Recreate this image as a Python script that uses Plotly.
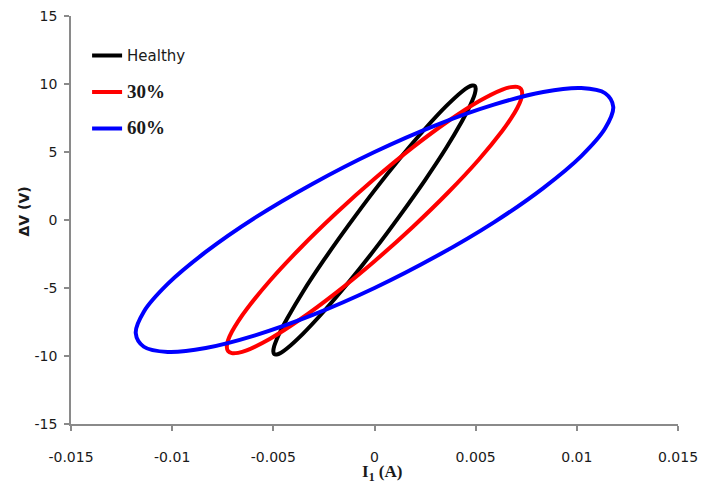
import plotly.graph_objects as go

# ---- data ----
healthy_x = [0, 0.00129, 0.0025, 0.00354, 0.00433, 0.00462, 0.00483, 0.00496, 0.005, 0.00496, 0.00483, 0.00462, 0.00433, 0.00354, 0.0025, 0.00129, 0,
             -0.00129, -0.0025, -0.00354, -0.00433, -0.00462, -0.00483, -0.00496, -0.005, -0.00496, -0.00483, -0.00462, -0.00433, -0.00354, -0.0025, -0.00129, 0]
healthy_y = [2.18, 4.60, 6.71, 8.37, 9.45, 9.76, 9.89, 9.86, 9.66, 9.29, 8.76, 8.09, 7.28, 5.29, 2.94, 0.40, -2.18,
             -4.60, -6.71, -8.37, -9.45, -9.76, -9.89, -9.86, -9.66, -9.29, -8.76, -8.09, -7.28, -5.29, -2.94, -0.40, 2.18]

f30_x = [0, 0.00189, 0.00365, 0.00516, 0.00632, 0.00674, 0.00705, 0.00724, 0.0073, 0.00724, 0.00705, 0.00674, 0.00632, 0.00516, 0.00365, 0.00189, 0,
         -0.00189, -0.00365, -0.00516, -0.00632, -0.00674, -0.00705, -0.00724, -0.0073, -0.00724, -0.00705, -0.00674, -0.00632, -0.00516, -0.00365, -0.00189, 0]
f30_y = [3.03, 5.34, 7.28, 8.73, 9.59, 9.77, 9.79, 9.64, 9.32, 8.85, 8.22, 7.45, 6.56, 4.45, 2.04, -0.51, -3.03,
         -5.34, -7.28, -8.73, -9.59, -9.77, -9.79, -9.64, -9.32, -8.85, -8.22, -7.45, -6.56, -4.45, -2.04, 0.51, 3.03]

f60_x = [0, 0.00305, 0.0059, 0.00834, 0.01022, 0.0114, 0.0118, 0.0114, 0.01022, 0.00834, 0.0059, 0.00305, 0,
         -0.00305, -0.0059, -0.00834, -0.01022, -0.0114, -0.0118, -0.0114, -0.01022, -0.00834, -0.0059, -0.00305, 0]
f60_y = [5.00, 6.98, 8.48, 9.41, 9.70, 9.32, 8.32, 6.74, 4.70, 2.35, -0.17, -2.67, -5.00,
         -6.98, -8.48, -9.41, -9.70, -9.32, -8.32, -6.74, -4.70, -2.35, 0.17, 2.67, 5.00]

x_tickvals = [-0.015, -0.01, -0.005, 0, 0.005, 0.01, 0.015]
x_ticktext = ["-0.015", "-0.01", "-0.005", "0", "0.005", "0.01", "0.015"]
y_tickvals = [-15, -10, -5, 0, 5, 10, 15]
y_ticktext = ["-15", "-10", "-5", "0", "5", "10", "15"]

series = [
    ("Healthy", healthy_x, healthy_y, "#000000"),
    ("<span style='font-family:Liberation Serif;font-size:19px'><b>30%</b></span>", f30_x, f30_y, "#ff0000"),
    ("<span style='font-family:Liberation Serif;font-size:19px'><b>60%</b></span>", f60_x, f60_y, "#0000ff"),
]

fig = go.Figure()
for i, (name, xs, ys, col) in enumerate(series):
    fig.add_trace(go.Scatter(x=xs, y=ys, mode="lines", name=name,
                             line=dict(color=col, width=4, shape="spline", smoothing=1),
                             legendgroup=f"g{i}", hoverinfo="skip"))

axis_col = "#8a8a8a"
tick_font = dict(family="DejaVu Sans", size=14, color="#1a1a1a")
fig.update_layout(
    width=702, height=484,
    margin=dict(l=71, r=24, t=16, b=60, autoexpand=False),
    paper_bgcolor="white", plot_bgcolor="white",
    font=dict(family="DejaVu Sans", size=14, color="#1a1a1a"),
    showlegend=True,
    legend=dict(x=0.0265, y=0.943, xanchor="left", yanchor="top",
                bgcolor="rgba(0,0,0,0)", tracegroupgap=14,
                font=dict(family="DejaVu Sans", size=15, color="#1a1a1a")),
    xaxis=dict(range=[-0.015, 0.015], tickvals=x_tickvals, ticktext=x_ticktext, automargin=False,
               showgrid=False, zeroline=False, showline=True, linecolor=axis_col, linewidth=1.5,
               ticks="outside", ticklen=5, tickcolor=axis_col, tickwidth=1.5,
               ticklabelstandoff=14, tickfont=tick_font),
    yaxis=dict(range=[-15, 15], tickvals=y_tickvals, ticktext=y_ticktext, automargin=False,
               showgrid=False, zeroline=False, showline=True, linecolor=axis_col, linewidth=1.5,
               ticks="outside", ticklen=5, tickcolor=axis_col, tickwidth=1.5,
               ticklabelstandoff=4, tickfont=tick_font),
    annotations=[
        dict(text="<b>I<sub>1</sub> (A)</b>", xref="paper", yref="paper", x=0.512, y=-0.121,
             xanchor="center", yanchor="middle", showarrow=False,
             font=dict(family="Liberation Serif", size=17, color="#1a1a1a")),
        dict(text="<b>ΔV (V)</b>", xref="paper", yref="paper", x=-0.078, y=0.52,
             xanchor="center", yanchor="middle", showarrow=False, textangle=-90,
             font=dict(family="DejaVu Sans", size=14, color="#1a1a1a")),
    ],
)

fig.write_html("out.html", config={"displayModeBar": False})
